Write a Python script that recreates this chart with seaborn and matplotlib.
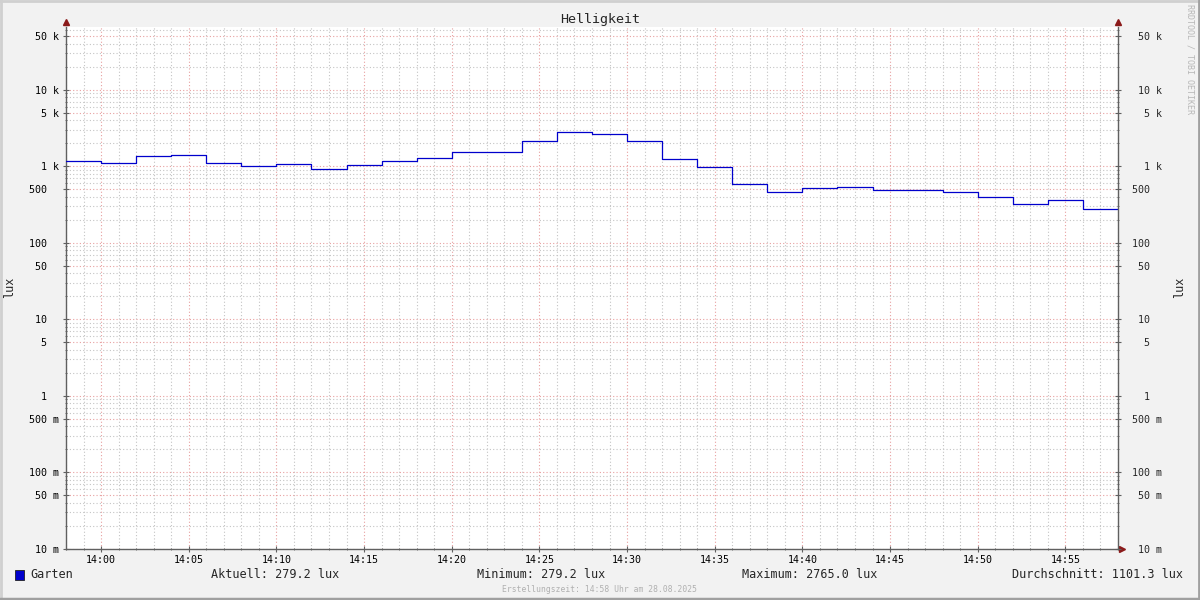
import matplotlib
matplotlib.use('Agg')
import matplotlib.pyplot as plt
import matplotlib.dates as mdates
from matplotlib.ticker import FixedLocator, FixedFormatter, LogLocator, NullFormatter
from matplotlib.lines import Line2D
from matplotlib.patches import Rectangle
import pandas as pd
import seaborn as sns

# Messwerte (2-Minuten-Schritte)
times = ['13:58', '14:00', '14:02', '14:04', '14:06', '14:08', '14:10', '14:12',
         '14:14', '14:16', '14:18', '14:20', '14:22', '14:24', '14:26', '14:28',
         '14:30', '14:32', '14:34', '14:36', '14:38', '14:40', '14:42', '14:44',
         '14:46', '14:48', '14:50', '14:52', '14:54', '14:56']
lux = [1170, 1101, 1371, 1413, 1101, 1006, 1069, 918, 1037, 1170, 1279, 1535,
       1535, 2134, 2765, 2636, 2134, 1241, 975, 590, 464, 519, 535, 493,
       493, 460, 396, 320, 362, 279.2]
end_time = '14:58'
day = '2025-08-28'
series_name = 'Garten'

ytick_values = [0.01, 0.05, 0.1, 0.5, 1, 5, 10, 50, 100, 500, 1000, 5000, 10000, 50000]
ytick_labels = ['10 m', '50 m', '100 m', '500 m', '1  ', '5  ', '10  ', '50  ',
                '100  ', '500  ', '1 k', '5 k', '10 k', '50 k']

stat_labels = ['Aktuell', 'Minimum', 'Maximum', 'Durchschnitt']
stat_values = [279.2, 279.2, 2765.0, 1101.3]

df = pd.DataFrame({'zeit': pd.to_datetime([f'{day} {t}' for t in times]), 'lux': lux})
# letzten Wert bis zum Ende halten
df = pd.concat([df, pd.DataFrame({'zeit': [pd.to_datetime(f'{day} {end_time}')],
                                  'lux': [lux[-1]]})], ignore_index=True)

sns.set_theme(style='white')
plt.rcParams['font.family'] = ['DejaVu Sans Mono']

BG = '#F2F2F2'
LINE = '#0000CC'
MINOR = '#C4C4C4'
MAJOR = '#E8A0A0'
AXIS = '#606060'
ARROW = '#8B1A1A'

fig = plt.figure(figsize=(12, 6), dpi=100, facecolor=BG)
ax = fig.add_axes([66 / 1200, 51 / 600, (1118 - 66) / 1200, (549 - 27) / 600])
ax.set_facecolor('white')

sns.lineplot(data=df, x='zeit', y='lux', ax=ax, color=LINE, linewidth=0.9,
             drawstyle='steps-post', legend=False, zorder=5)

ax.set_yscale('log')
ax.set_ylim(0.01, 66000)
ax.set_xlim(df['zeit'].iloc[0], df['zeit'].iloc[-1])

ax.xaxis.set_major_locator(mdates.MinuteLocator(byminute=range(0, 60, 5)))
ax.xaxis.set_minor_locator(mdates.MinuteLocator(byminute=range(60)))
ax.xaxis.set_major_formatter(mdates.DateFormatter('%H:%M'))
ax.yaxis.set_major_locator(FixedLocator(ytick_values))
ax.yaxis.set_major_formatter(FixedFormatter(ytick_labels))
ax.yaxis.set_minor_locator(LogLocator(base=10, subs=(2, 3, 4, 6, 7, 8, 9), numticks=30))
ax.yaxis.set_minor_formatter(NullFormatter())

ax.grid(True, which='minor', color=MINOR, linestyle=(0, (1, 2)), linewidth=0.8)
ax.grid(True, which='major', color=MAJOR, linestyle=(0, (1, 2)), linewidth=0.8)
ax.set_axisbelow(True)

ax.tick_params(axis='both', which='major', direction='inout', length=4, width=0.8,
               color=AXIS, labelsize=7.2, labelcolor='black')
ax.tick_params(axis='both', which='minor', direction='inout', length=2, width=0.6, color=AXIS)
ax.tick_params(axis='y', which='major', pad=3)
ax.tick_params(axis='x', which='major', pad=2)
ax.tick_params(left=True, bottom=True, which='both')
ax.set_xlabel('')
ax.set_ylabel('')

for side in ['top', 'right']:
    ax.spines[side].set_visible(False)
for side in ['left', 'bottom']:
    ax.spines[side].set_color(AXIS)
    ax.spines[side].set_linewidth(1.0)

# rechte Achse mit gleichen Beschriftungen
ax2 = ax.twinx()
ax2.set_yscale('log')
ax2.set_ylim(ax.get_ylim())
ax2.yaxis.set_major_locator(FixedLocator(ytick_values))
ax2.yaxis.set_major_formatter(FixedFormatter(ytick_labels))
ax2.yaxis.set_minor_locator(LogLocator(base=10, subs=(2, 3, 4, 6, 7, 8, 9), numticks=30))
ax2.yaxis.set_minor_formatter(NullFormatter())
ax2.tick_params(axis='y', which='major', direction='inout', length=4, width=0.8,
                color=AXIS, labelsize=7.2, pad=30)
ax2.tick_params(axis='y', which='minor', direction='inout', length=2, width=0.6, color=AXIS)
for lbl in ax2.get_yticklabels():
    lbl.set_horizontalalignment('right')
for side in ['top', 'left', 'bottom']:
    ax2.spines[side].set_visible(False)
ax2.spines['right'].set_color(AXIS)
ax2.spines['right'].set_linewidth(1.0)
ax2.grid(False)

# Pfeile an den Achsenenden
ax.plot([0], [1.01], marker='^', color=ARROW, ms=4, transform=ax.transAxes, clip_on=False)
ax.plot([1], [1.01], marker='^', color=ARROW, ms=4, transform=ax.transAxes, clip_on=False)
ax.plot([1.004], [0], marker='>', color=ARROW, ms=4, transform=ax.transAxes, clip_on=False)

# Titel und Achsenbeschriftung
fig.text(0.5, 1 - 19 / 600, 'Helligkeit', ha='center', va='center', fontsize=9.6)
fig.text(10 / 1200, 1 - 287 / 600, 'lux', ha='center', va='center', rotation=90, fontsize=8.5)
fig.text(1180 / 1200, 1 - 287 / 600, 'lux', ha='center', va='center', rotation=90, fontsize=8.5)
fig.text(1190 / 1200, 1 - 4 / 600, 'RRDTOOL / TOBI OETIKER', ha='center', va='top',
         rotation=270, fontsize=6, color='#B8B8B8')

# Legende
fig.add_artist(Rectangle((15 / 1200, 1 - 580 / 600), 9 / 1200, 10 / 600,
                         facecolor=LINE, edgecolor='#202020', linewidth=0.6,
                         transform=fig.transFigure))
ly = 1 - 575 / 600
fig.text(30 / 1200, ly, series_name, ha='left', va='center', fontsize=8.5)
stat_x = [275, 541, 809.5]
for x, name, val in zip(stat_x, stat_labels[:3], stat_values[:3]):
    fig.text(x / 1200, ly, f'{name}: {val:.1f} lux', ha='center', va='center', fontsize=8.5)
fig.text(1183 / 1200, ly, f'{stat_labels[3]}: {stat_values[3]:.1f} lux',
         ha='right', va='center', fontsize=8.5)
fig.text(0.5, 1 - 589 / 600, 'Erstellungszeit: 14:58 Uhr am 28.08.2025',
         ha='center', va='center', fontsize=5.8, color='#B0B0B0')

# Rahmen
fig.add_artist(Line2D([0, 1], [0.999, 0.999], color='#D0D0D0', lw=2, transform=fig.transFigure))
fig.add_artist(Line2D([0.001, 0.001], [0, 1], color='#D0D0D0', lw=2, transform=fig.transFigure))
fig.add_artist(Line2D([0, 1], [0.002, 0.002], color='#A0A0A0', lw=2.5, transform=fig.transFigure))
fig.add_artist(Line2D([0.999, 0.999], [0, 1], color='#A0A0A0', lw=2, transform=fig.transFigure))

fig.savefig('out.png', dpi=100, facecolor=BG)
